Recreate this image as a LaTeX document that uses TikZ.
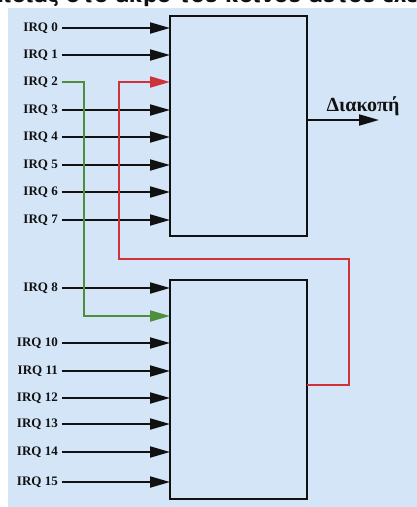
\documentclass[tikz,border=0pt]{standalone}
\usepackage{fontspec}
\setmainfont{Liberation Serif}
\newfontfamily\headfont{DejaVu Sans}
\usetikzlibrary{arrows.meta}
\definecolor{panel}{HTML}{D5E5F8}
\definecolor{wirered}{HTML}{D0323A}
\definecolor{wiregreen}{HTML}{4E8F3E}
\definecolor{ink}{HTML}{111111}
\begin{document}
\begin{tikzpicture}[x=1pt,y=-1pt,
  wire/.style={line width=2pt, draw=ink},
  tip/.style={-{Triangle[length=20pt,width=11pt]}},
  irq/.style={anchor=east, inner xsep=4pt, inner ysep=0pt, text=ink,
    font=\bfseries\fontsize{13}{13}\selectfont},
  chip/.style={draw=ink, line width=2pt, fill=none, inner sep=0pt, outer sep=0pt,
    anchor=north west, minimum width=137pt}]
\useasboundingbox (0,0) rectangle (417,507);

% heading line above the panel, cut off at the panel edge
\begin{scope}
  \clip (0,0) rectangle (417,8);
  \node[anchor=base west, inner sep=0pt, text=ink,
    font=\headfont\bfseries\fontsize{20}{20}\selectfont] (heading) at (-4,2)
    {ποιας στο άκρο του κοινού αυτού ελεγκτή};
\end{scope}

% panel
\fill[panel] (8,8) rectangle (417,507);

% the two controllers
\node[chip, minimum height=220pt] (pic1) at (170,16) {};
\node[chip, minimum height=219pt] (pic2) at (170,280) {};

% inputs of the first controller
\foreach \i/\y in {0/28,1/55,3/110,4/137,5/165,6/192,7/220}{
  \node[irq] (irq\i) at (62,\y) {IRQ \i};
  \draw[wire,tip] (irq\i.east) -- (irq\i.east -| pic1.west);
}
\node[irq] (irq2) at (62,82) {IRQ 2};

% inputs of the second controller
\foreach \i/\y in {8/288,10/343,11/371,12/398,13/424,14/452,15/482}{
  \node[irq] (irq\i) at (62,\y) {IRQ \i};
  \draw[wire,tip] (irq\i.east) -- (irq\i.east -| pic2.west);
}

% IRQ 2 rerouted to the second controller
\coordinate (gbend) at (84,316);
\draw[wire, draw=wiregreen, tip] (irq2.east) -| (gbend) -- (gbend -| pic2.west);

% output of the second controller cascaded into the first
\coordinate (rout) at (307,385);
\coordinate (rcorner) at (349,259);
\coordinate (rtop) at (119,82);
\draw[wire, draw=wirered, tip] (rout) -| (rcorner) -| (rtop) -- (rtop -| pic1.west);

% interrupt output
\coordinate (intr) at (379,120);
\draw[wire,tip] (intr -| pic1.east) -- (intr);
\node[anchor=base, inner sep=0pt, text=ink,
  font=\bfseries\fontsize{20}{20}\selectfont] (intrlabel) at (363,111) {Διακοπή};
\end{tikzpicture}
\end{document}
